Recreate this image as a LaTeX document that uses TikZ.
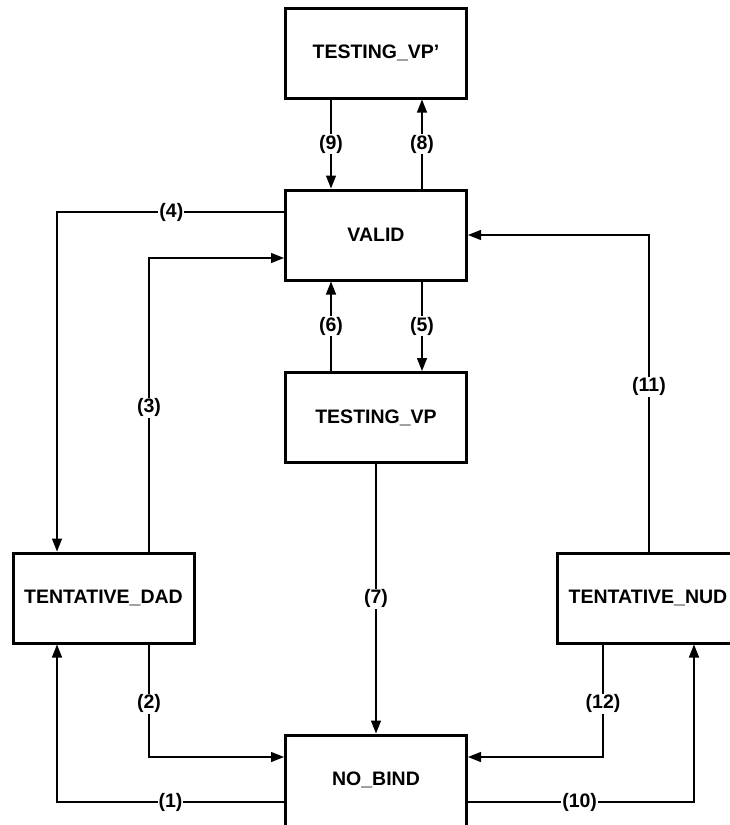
\documentclass[tikz,border=0pt]{standalone}
\usepackage{fontspec}
\setmainfont{Liberation Sans}
\usepackage{tikz}
\usetikzlibrary{arrows.meta,calc}

\begin{document}
\begin{tikzpicture}[x=1pt,y=-1pt,
    state/.style={draw,line width=3pt,minimum width=181pt,minimum height=90pt,
      font=\bfseries\fontsize{19.5}{22}\selectfont},
    arr/.style={line width=1.4pt,-{Triangle[length=13pt,width=10pt]}},
    lbl/.style={fill=white,inner sep=1pt,font=\bfseries\fontsize{19.5}{22}\selectfont}]
	  \useasboundingbox (0,0) rectangle (729,825);
	  \node[state] (tvpq) at (376,53) {TESTING\_VP’};
	  \node[state] (valid) at (376,235) {VALID};
	  \node[state] (tvp) at (376,417.5) {TESTING\_VP};
	  \node[state] (dad) at (103.5,598) {TENTATIVE\_DAD};
	  \node[state] (nud) at (648,598) {TENTATIVE\_NUD};
	  \node[state,minimum height=92pt] (nobind) at (376,781) {};
	  \node[font=\bfseries\fontsize{19.5}{22}\selectfont] at (376,780) {NO\_BIND};
	  % top pair
	  \draw[arr]([xshift=-45pt]tvpq.south)--node[lbl]{(9)}([xshift=-45pt]valid.north);
	  \draw[arr]([xshift=46pt]valid.north)--node[lbl]{(8)}([xshift=46pt]tvpq.south);
	  \draw[arr]([xshift=-45pt]tvp.north)--node[lbl]{(6)}([xshift=-45pt]valid.south);
	  \draw[arr]([xshift=46pt]valid.south)--node[lbl]{(5)}([xshift=46pt]tvp.north);
	  % left side
	  \draw[arr]([yshift=23pt]valid.west)-|node[lbl,pos=.248]{(4)}([xshift=-46.5pt]dad.north);
	  \draw[arr]([xshift=45.5pt]dad.north)|-node[lbl,pos=.245]{(3)}([yshift=-23pt]valid.west);
	  \draw[arr]([yshift=-21pt]nobind.west)-|node[lbl,pos=.25]{(1)}([xshift=-46.5pt]dad.south);
	  \draw[arr]([xshift=45.5pt]dad.south)|-node[lbl,pos=.263]{(2)}([yshift=24pt]nobind.west);
	  % middle and right side
	  \draw[arr](tvp.south)--node[lbl]{(7)}(nobind.north);
	  \draw[arr]([xshift=-45pt]nud.south)|-node[lbl,pos=.263]{(12)}([yshift=24pt]nobind.east);
	  \draw[arr]([yshift=-21pt]nobind.east)-|node[lbl,pos=.247]{(10)}([xshift=46pt]nud.south);
	  \draw[arr]([xshift=1pt]nud.north)|-node[lbl,pos=.26]{(11)}(valid.east);
	\end{tikzpicture}
\end{document}
